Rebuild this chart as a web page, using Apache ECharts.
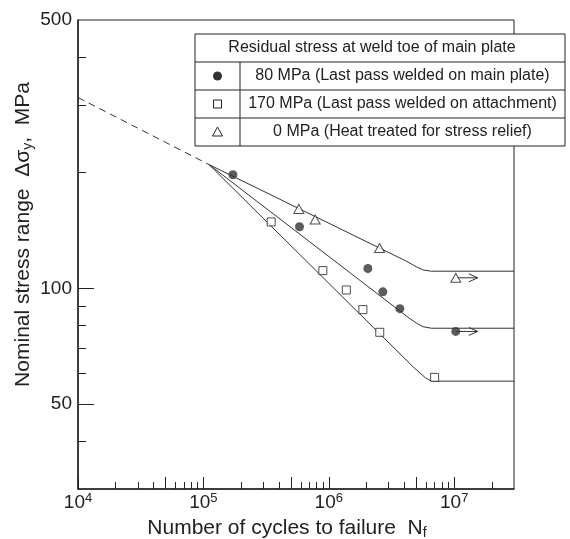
<!DOCTYPE html>
<html>
<head>
<meta charset="utf-8">
<script src="https://cdn.jsdelivr.net/npm/echarts@6/dist/echarts.min.js"></script>
<style>
  html, body { margin: 0; padding: 0; background: #fff; }
  #chart { width: 570px; height: 539px; }
</style>
</head>
<body>
<div id="chart"></div>
<script>
//Bornes des axes (cycles, MPa)
const xRange = [1e4, 3e7];
const yRange = [30, 500];

//Graduations
const xLabelTicks = [1e4, 1e5, 1e6, 1e7];
const xMajorTicks = [1e4, 5e4, 1e5, 5e5, 1e6, 5e6, 1e7];
const xMinorTicks = [2e4, 3e4, 4e4, 6e4, 7e4, 8e4, 9e4,
  2e5, 3e5, 4e5, 6e5, 7e5, 8e5, 9e5,
  2e6, 3e6, 4e6, 6e6, 7e6, 8e6, 9e6, 2e7];
const yLabelTicks = [50, 100, 500];
const yMajorTicks = [50, 100];
const yMinorTicks = [40, 60, 70, 80, 90, 200, 300, 400];

//Essais (N cycles, contrainte MPa)
const pts80 = [[1.72e5, 197.6], [5.84e5, 144.7], [2.05e6, 112.6], [2.70e6, 97.9], [3.69e6, 88.5], [1.03e7, 77.2]];
const pts170 = [[3.47e5, 148.9], [8.97e5, 111.2], [1.38e6, 99.0], [1.87e6, 88.0], [2.55e6, 76.8], [6.98e6, 58.6]];
const pts0 = [[5.77e5, 161], [7.79e5, 151], [2.54e6, 127.3], [1.03e7, 106.5]];
const runOuts = [[1.03e7, 106.5], [1.03e7, 77.2]];

//Courbes S-N
const extrapolation = [[1e4, 314], [1.11e5, 210]];
const curve0 = [[1.11e5, 210], [4.15e6, 117.7], [4.99e6, 113.8], [5.66e6, 111.6], [6.57e6, 110.8], [3e7, 110.8]];
const curve80 = [[1.11e5, 210], [4.38e6, 83.6], [5.07e6, 80.9], [5.66e6, 79.4], [6.57e6, 78.7], [3e7, 78.7]];
const curve170 = [[1.11e5, 210], [4.71e6, 62.4], [5.36e6, 60.1], [5.88e6, 58.5], [6.45e6, 57.5], [7.33e6, 57.3], [3e7, 57.3]];

//Légende
const legendTitle = 'Residual stress at weld toe of main plate';
const legendLabels = [
  '80 MPa (Last pass welded on main plate)',
  '170 MPa (Last pass welded on attachment)',
  '0 MPa (Heat treated for stress relief)'
];

const FONT = '"Liberation Sans", Arial, Helvetica, sans-serif';
const INK = '#222';
const lg = v => Math.log10(v);
const lgPt = p => [lg(p[0]), lg(p[1])];

let chart = echarts.init(document.getElementById('chart'), null, { renderer: 'canvas' });

//Axes (valeurs en log10), le second ne porte que les petites graduations
function xAxisDef(ticks, len, main) {
  return {
    type: 'value', position: 'bottom', min: lg(xRange[0]), max: lg(xRange[1]),
    axisLine: { show: main, onZero: false, lineStyle: { color: INK, width: 1.5 } },
    axisTick: { show: true, inside: true, length: len, customValues: ticks.map(lg), lineStyle: { color: INK, width: 1 } },
    axisLabel: main ? {
      customValues: xLabelTicks.map(lg),
      margin: 3,
      formatter: v => `{a|10}{s|${Math.round(v)}}`,
      rich: {
        a: { fontSize: 19, fontFamily: FONT, color: INK, lineHeight: 22 },
        s: { fontSize: 13, fontFamily: FONT, color: INK, lineHeight: 13, verticalAlign: 'top' }
      }
    } : { show: false },
    splitLine: { show: false },
    name: main ? '{a|Number of cycles to failure  N}{b|f}' : '',
    nameLocation: 'middle',
    nameGap: 24,
    nameTextStyle: {
      padding: [0, 18, 0, 0],
      rich: {
        a: { fontSize: 21, fontFamily: FONT, color: INK, lineHeight: 24 },
        b: { fontSize: 14, fontFamily: FONT, color: INK, lineHeight: 14, verticalAlign: 'bottom' }
      }
    }
  };
}

function yAxisDef(ticks, len, main) {
  return {
    type: 'value', position: 'left', min: lg(yRange[0]), max: lg(yRange[1]),
    axisLine: { show: main, onZero: false, lineStyle: { color: INK, width: 1.5 } },
    axisTick: { show: true, inside: true, length: len, customValues: ticks.map(lg), lineStyle: { color: INK, width: 1 } },
    axisLabel: main ? {
      customValues: yLabelTicks.map(lg),
      margin: 6,
      fontSize: 19, fontFamily: FONT, color: INK,
      formatter: v => String(Math.round(Math.pow(10, v)))
    } : { show: false },
    splitLine: { show: false },
    name: main ? '{a|Nominal stress range  Δσ}{b|y}{a|,  MPa}' : '',
    nameLocation: 'middle',
    nameRotate: 90,
    nameGap: 43,
    nameMoveOverlap: false,
    nameTextStyle: {
      padding: [0, 0, 0, 40],
      rich: {
        a: { fontSize: 21, fontFamily: FONT, color: INK, lineHeight: 24 },
        b: { fontSize: 14, fontFamily: FONT, color: INK, lineHeight: 14, verticalAlign: 'bottom' }
      }
    }
  };
}

const lineStyle = { color: '#333', width: 1 };
function curve(data) {
  return { type: 'line', data: data.map(lgPt), symbol: 'none', lineStyle: lineStyle, z: 2, silent: true };
}
const openMarker = { color: '#fff', borderColor: INK, borderWidth: 1 };

//Tableau de légende (graphique libre)
const box = { x: 195, y: 34, w: 370, row: 28, col: 45 };
const legendChildren = [
  { type: 'rect', shape: { x: box.x, y: box.y, width: box.w, height: box.row * 4 }, style: { fill: '#fff', stroke: INK, lineWidth: 1 } },
  { type: 'line', shape: { x1: box.x + box.col, y1: box.y + box.row, x2: box.x + box.col, y2: box.y + box.row * 4 }, style: { stroke: INK, lineWidth: 1 } },
  { type: 'text', style: { text: legendTitle, x: 372, y: box.y + box.row / 2, align: 'center', verticalAlign: 'middle', fontSize: 16, fontFamily: FONT, fill: INK } }
];
legendLabels.forEach((lbl, i) => {
  const yTop = box.y + box.row * (i + 1);
  const cy = yTop + box.row / 2;
  const cx = box.x + box.col / 2;
  legendChildren.push({ type: 'line', shape: { x1: box.x, y1: yTop, x2: box.x + box.w, y2: yTop }, style: { stroke: INK, lineWidth: 1 } });
  legendChildren.push({ type: 'text', style: { text: lbl, x: box.x + box.col + (box.w - box.col) / 2, y: cy, align: 'center', verticalAlign: 'middle', fontSize: 16, fontFamily: FONT, fill: INK } });
  if (i === 0) legendChildren.push({ type: 'circle', shape: { cx: cx, cy: cy, r: 4.5 }, style: { fill: '#333' } });
  if (i === 1) legendChildren.push({ type: 'rect', shape: { x: cx - 4, y: cy - 4, width: 8, height: 8 }, style: { fill: '#fff', stroke: INK, lineWidth: 1 } });
  if (i === 2) legendChildren.push({ type: 'polygon', shape: { points: [[cx, cy - 5], [cx + 5, cy + 4], [cx - 5, cy + 4]] }, style: { fill: '#fff', stroke: INK, lineWidth: 1 } });
});

chart.setOption({
  animation: false,
  backgroundColor: '#fff',
  grid: { left: 78, right: 56, top: 20, bottom: 50, show: true, borderColor: INK, borderWidth: 1, containLabel: false, outerBoundsMode: 'none' },
  xAxis: [xAxisDef(xMajorTicks, 12, true), xAxisDef(xMinorTicks, 7, false)],
  yAxis: [yAxisDef(yMajorTicks, 16, true), yAxisDef(yMinorTicks, 8, false)],
  series: [
    { type: 'line', data: extrapolation.map(lgPt), symbol: 'none', lineStyle: { color: '#333', width: 1, type: [7, 5] }, z: 2, silent: true },
    curve(curve0),
    curve(curve80),
    curve(curve170),
    {
      type: 'custom', data: runOuts.map(lgPt), encode: { x: 0, y: 1 }, z: 3, silent: true,
      renderItem: (params, api) => {
        const p = api.coord([api.value(0), api.value(1)]);
        return {
          type: 'group',
          children: [
            { type: 'line', shape: { x1: p[0], y1: p[1], x2: p[0] + 22, y2: p[1] }, style: { stroke: '#333', lineWidth: 1 } },
            { type: 'polyline', shape: { points: [[p[0] + 13, p[1] - 4], [p[0] + 22, p[1]], [p[0] + 13, p[1] + 4]] }, style: { stroke: '#333', fill: null, lineWidth: 1 } }
          ]
        };
      }
    },
    { type: 'scatter', data: pts80.map(lgPt), symbol: 'circle', symbolSize: 9, itemStyle: { color: '#333' }, z: 4, silent: true },
    { type: 'scatter', data: pts170.map(lgPt), symbol: 'rect', symbolSize: 8, itemStyle: openMarker, z: 4, silent: true },
    { type: 'scatter', data: pts0.map(lgPt), symbol: 'triangle', symbolSize: [10, 9], itemStyle: openMarker, z: 4, silent: true }
  ],
  graphic: [{ type: 'group', z: 100, children: legendChildren }]
});

window.addEventListener('resize', () => chart.resize());
</script>
</body>
</html>
